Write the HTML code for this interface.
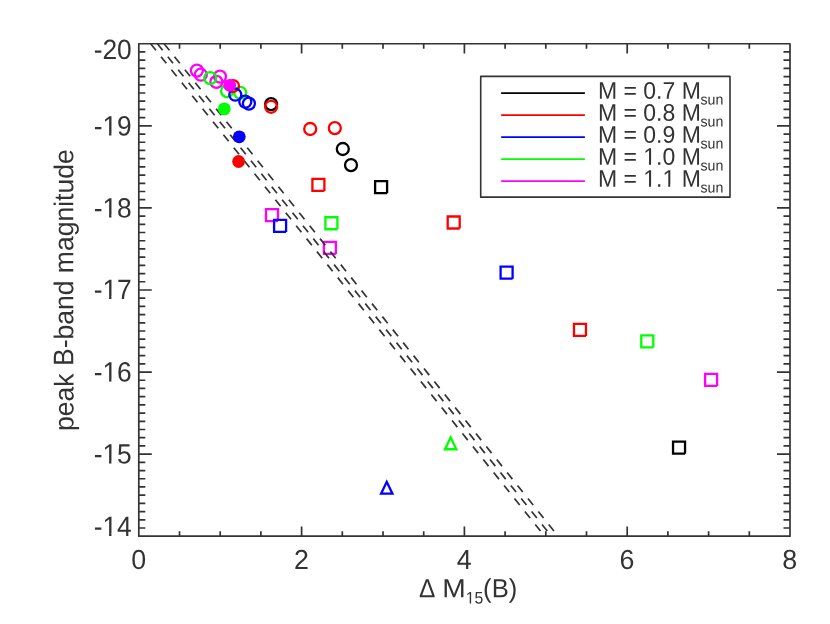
<!DOCTYPE html>
<html><head><meta charset="utf-8"><title>plot</title>
<style>
html,body{margin:0;padding:0;background:#fff;}
body{width:830px;height:624px;overflow:hidden;}
svg{display:block;}
text{font-family:"Liberation Sans",sans-serif;text-rendering:geometricPrecision;fill:#333333;}
</style></head><body>
<svg width="830" height="624" viewBox="0 0 830 624" style="will-change:transform">
<rect x="0" y="0" width="830" height="624" fill="#ffffff"/>

<g id="squares">
<path d="M387.10 193.20H375.10V181.20H387.10V193.20" fill="none" stroke="#000000" stroke-width="2.3" stroke-linejoin="miter"/>
<path d="M685.04 453.70H673.04V441.70H685.04V453.70" fill="none" stroke="#000000" stroke-width="2.3" stroke-linejoin="miter"/>
<path d="M324.40 190.90H312.40V178.90H324.40V190.90" fill="none" stroke="#ff0000" stroke-width="2.3" stroke-linejoin="miter"/>
<path d="M459.70 228.50H447.70V216.50H459.70V228.50" fill="none" stroke="#ff0000" stroke-width="2.3" stroke-linejoin="miter"/>
<path d="M585.97 335.90H573.97V323.90H585.97V335.90" fill="none" stroke="#ff0000" stroke-width="2.3" stroke-linejoin="miter"/>
<path d="M278.00 221.05H266.00V209.05H278.00V221.05" fill="none" stroke="#ff00ff" stroke-width="2.3" stroke-linejoin="miter"/>
<path d="M335.90 253.90H323.90V241.90H335.90V253.90" fill="none" stroke="#ff00ff" stroke-width="2.3" stroke-linejoin="miter"/>
<path d="M717.10 385.95H705.10V373.95H717.10V385.95" fill="none" stroke="#ff00ff" stroke-width="2.3" stroke-linejoin="miter"/>
<path d="M337.40 229.25H325.40V217.25H337.40V229.25" fill="none" stroke="#00ff00" stroke-width="2.3" stroke-linejoin="miter"/>
<path d="M653.30 347.30H641.30V335.30H653.30V347.30" fill="none" stroke="#00ff00" stroke-width="2.3" stroke-linejoin="miter"/>
<path d="M286.10 231.90H274.10V219.90H286.10V231.90" fill="none" stroke="#0000ff" stroke-width="2.3" stroke-linejoin="miter"/>
<path d="M512.60 278.70H500.60V266.70H512.60V278.70" fill="none" stroke="#0000ff" stroke-width="2.3" stroke-linejoin="miter"/>
</g>
<g id="tri">
<path d="M444.95 449.25L450.65 437.40L456.35 449.25Z" fill="none" stroke="#00ff00" stroke-width="2.3" stroke-linejoin="miter" stroke-miterlimit="10"/>
<path d="M381.05 493.65L386.75 481.80L392.45 493.65Z" fill="none" stroke="#0000ff" stroke-width="2.3" stroke-linejoin="miter" stroke-miterlimit="10"/>
</g>
<g id="dash" stroke="#333333" stroke-width="1.7" fill="none" stroke-dasharray="8.4 8.24">
<line x1="150.65" y1="43.75" x2="544.61" y2="536.20"/>
<line x1="157.40" y1="43.75" x2="551.36" y2="536.20"/>
<line x1="164.10" y1="43.75" x2="558.06" y2="536.20"/>
</g>
<g id="open">
<circle cx="271.10" cy="104.10" r="6" fill="none" stroke="#000000" stroke-width="2.3"/>
<circle cx="342.80" cy="149.00" r="6" fill="none" stroke="#000000" stroke-width="2.3"/>
<circle cx="351.00" cy="165.10" r="6" fill="none" stroke="#000000" stroke-width="2.3"/>
<circle cx="271.10" cy="106.80" r="6" fill="none" stroke="#ff0000" stroke-width="2.3"/>
<circle cx="310.20" cy="129.00" r="6" fill="none" stroke="#ff0000" stroke-width="2.3"/>
<circle cx="334.80" cy="128.10" r="6" fill="none" stroke="#ff0000" stroke-width="2.3"/>
<circle cx="196.90" cy="70.60" r="6" fill="none" stroke="#ff00ff" stroke-width="2.3"/>
<circle cx="200.80" cy="74.70" r="6" fill="none" stroke="#ff00ff" stroke-width="2.3"/>
<circle cx="220.00" cy="76.60" r="6" fill="none" stroke="#ff00ff" stroke-width="2.3"/>
<circle cx="216.40" cy="81.90" r="6" fill="none" stroke="#ff00ff" stroke-width="2.3"/>
<circle cx="210.20" cy="78.10" r="6" fill="none" stroke="#00ff00" stroke-width="2.3"/>
<circle cx="227.10" cy="91.10" r="6" fill="none" stroke="#00ff00" stroke-width="2.3"/>
<circle cx="240.20" cy="92.80" r="6" fill="none" stroke="#00ff00" stroke-width="2.3"/>
<circle cx="233.00" cy="86.05" r="6" fill="none" stroke="#ff0000" stroke-width="2.3"/>
<circle cx="235.30" cy="94.70" r="6" fill="none" stroke="#0000ff" stroke-width="2.3"/>
<circle cx="245.30" cy="101.70" r="6" fill="none" stroke="#0000ff" stroke-width="2.3"/>
<circle cx="248.90" cy="103.60" r="6" fill="none" stroke="#0000ff" stroke-width="2.3"/>
</g>
<g id="filled">
<circle cx="229.70" cy="85.30" r="6.4" fill="#ff00ff"/>
<circle cx="224.30" cy="108.90" r="6.4" fill="#00ff00"/>
<circle cx="239.30" cy="136.80" r="6.4" fill="#0000ff"/>
<circle cx="238.60" cy="161.50" r="6.4" fill="#ff0000"/>
</g>
<g id="axes" stroke="#333333" stroke-width="1.7" fill="none" stroke-linecap="butt">
<rect x="138.8" y="43.75" width="651.20" height="492.45" stroke-linejoin="round"/>
<path d="M179.50 536.20v-4.9M179.50 43.75v4.9M220.20 536.20v-4.9M220.20 43.75v4.9M260.90 536.20v-4.9M260.90 43.75v4.9M301.60 536.20v-9.8M301.60 43.75v9.8M342.30 536.20v-4.9M342.30 43.75v4.9M383.00 536.20v-4.9M383.00 43.75v4.9M423.70 536.20v-4.9M423.70 43.75v4.9M464.40 536.20v-9.8M464.40 43.75v9.8M505.10 536.20v-4.9M505.10 43.75v4.9M545.80 536.20v-4.9M545.80 43.75v4.9M586.50 536.20v-4.9M586.50 43.75v4.9M627.20 536.20v-9.8M627.20 43.75v9.8M667.90 536.20v-4.9M667.90 43.75v4.9M708.60 536.20v-4.9M708.60 43.75v4.9M749.30 536.20v-4.9M749.30 43.75v4.9M138.80 51.96h6.5M790.00 51.96h-6.5M138.80 60.17h6.5M790.00 60.17h-6.5M138.80 68.37h6.5M790.00 68.37h-6.5M138.80 76.58h6.5M790.00 76.58h-6.5M138.80 84.79h6.5M790.00 84.79h-6.5M138.80 93.00h6.5M790.00 93.00h-6.5M138.80 101.20h6.5M790.00 101.20h-6.5M138.80 109.41h6.5M790.00 109.41h-6.5M138.80 117.62h6.5M790.00 117.62h-6.5M138.80 125.83h13.0M790.00 125.83h-13.0M138.80 134.03h6.5M790.00 134.03h-6.5M138.80 142.24h6.5M790.00 142.24h-6.5M138.80 150.45h6.5M790.00 150.45h-6.5M138.80 158.66h6.5M790.00 158.66h-6.5M138.80 166.86h6.5M790.00 166.86h-6.5M138.80 175.07h6.5M790.00 175.07h-6.5M138.80 183.28h6.5M790.00 183.28h-6.5M138.80 191.49h6.5M790.00 191.49h-6.5M138.80 199.69h6.5M790.00 199.69h-6.5M138.80 207.90h13.0M790.00 207.90h-13.0M138.80 216.11h6.5M790.00 216.11h-6.5M138.80 224.32h6.5M790.00 224.32h-6.5M138.80 232.52h6.5M790.00 232.52h-6.5M138.80 240.73h6.5M790.00 240.73h-6.5M138.80 248.94h6.5M790.00 248.94h-6.5M138.80 257.14h6.5M790.00 257.14h-6.5M138.80 265.35h6.5M790.00 265.35h-6.5M138.80 273.56h6.5M790.00 273.56h-6.5M138.80 281.77h6.5M790.00 281.77h-6.5M138.80 289.98h13.0M790.00 289.98h-13.0M138.80 298.18h6.5M790.00 298.18h-6.5M138.80 306.39h6.5M790.00 306.39h-6.5M138.80 314.60h6.5M790.00 314.60h-6.5M138.80 322.81h6.5M790.00 322.81h-6.5M138.80 331.01h6.5M790.00 331.01h-6.5M138.80 339.22h6.5M790.00 339.22h-6.5M138.80 347.43h6.5M790.00 347.43h-6.5M138.80 355.64h6.5M790.00 355.64h-6.5M138.80 363.84h6.5M790.00 363.84h-6.5M138.80 372.05h13.0M790.00 372.05h-13.0M138.80 380.26h6.5M790.00 380.26h-6.5M138.80 388.47h6.5M790.00 388.47h-6.5M138.80 396.67h6.5M790.00 396.67h-6.5M138.80 404.88h6.5M790.00 404.88h-6.5M138.80 413.09h6.5M790.00 413.09h-6.5M138.80 421.30h6.5M790.00 421.30h-6.5M138.80 429.50h6.5M790.00 429.50h-6.5M138.80 437.71h6.5M790.00 437.71h-6.5M138.80 445.92h6.5M790.00 445.92h-6.5M138.80 454.12h13.0M790.00 454.12h-13.0M138.80 462.33h6.5M790.00 462.33h-6.5M138.80 470.54h6.5M790.00 470.54h-6.5M138.80 478.75h6.5M790.00 478.75h-6.5M138.80 486.96h6.5M790.00 486.96h-6.5M138.80 495.16h6.5M790.00 495.16h-6.5M138.80 503.37h6.5M790.00 503.37h-6.5M138.80 511.58h6.5M790.00 511.58h-6.5M138.80 519.79h6.5M790.00 519.79h-6.5M138.80 527.99h6.5M790.00 527.99h-6.5"/>
</g>
<g id="ticklabels">
<text transform="translate(138.60 568.90) rotate(0.04) scale(1.03 1.06)" font-size="26" text-anchor="middle">0</text>
<text transform="translate(301.40 568.90) rotate(0.04) scale(1.03 1.06)" font-size="26" text-anchor="middle">2</text>
<text transform="translate(464.20 568.90) rotate(0.04) scale(1.03 1.06)" font-size="26" text-anchor="middle">4</text>
<text transform="translate(627.00 568.90) rotate(0.04) scale(1.03 1.06)" font-size="26" text-anchor="middle">6</text>
<text transform="translate(789.80 568.90) rotate(0.04) scale(1.03 1.06)" font-size="26" text-anchor="middle">8</text>
<text transform="translate(131.80 59.05) rotate(0.04) scale(1.015 1.07)" font-size="26" text-anchor="end">-20</text>
<text transform="translate(131.80 135.57) rotate(0.04) scale(1.015 1.07)" font-size="26" text-anchor="end">-19</text>
<text transform="translate(131.80 217.50) rotate(0.04) scale(1.015 1.07)" font-size="26" text-anchor="end">-18</text>
<text transform="translate(131.80 298.98) rotate(0.04) scale(1.015 1.07)" font-size="26" text-anchor="end">-17</text>
<text transform="translate(131.80 381.55) rotate(0.04) scale(1.015 1.07)" font-size="26" text-anchor="end">-16</text>
<text transform="translate(131.80 463.52) rotate(0.04) scale(1.015 1.07)" font-size="26" text-anchor="end">-15</text>
<text transform="translate(131.80 535.95) rotate(0.04) scale(1.015 1.07)" font-size="26" text-anchor="end">-14</text>
</g>
<g id="xt">
<text transform="translate(419.07 597.30) rotate(0.04) scale(0.94 1.01)" font-size="26" text-anchor="start">Δ</text>
<text transform="translate(442.29 597.30) rotate(0.04) scale(1.084 1.01)" font-size="26" text-anchor="start">M</text>
<text transform="translate(465.78 603.60) rotate(0.04) scale(0.98 1.03)" font-size="16.1" text-anchor="start">15</text>
<text transform="translate(483.11 597.30) rotate(0.04) scale(0.985 1.01)" font-size="26" text-anchor="start">(B)</text>
</g>
<g id="yt" transform="translate(73.4 430.9) rotate(-90.03) scale(1 1.025)" font-size="26.52">
<text x="0" y="0">peak </text>
<text transform="translate(64.875 0) scale(1 1.04)">B</text>
<text x="82.5625" y="0">-band magnitude</text>
</g>
<rect x="480.7" y="76.4" width="249.3" height="120.75" fill="#ffffff" stroke="#333333" stroke-width="1.6" stroke-linejoin="round"/>
<line x1="501.15" y1="93.15" x2="584.9" y2="93.15" stroke="#000000" stroke-width="1.9"/>
<text transform="translate(597.90 98.75) rotate(0.04) scale(1.0 1.045)" font-size="23.0" text-anchor="start">M = 0.7 M<tspan font-size="14.2" dy="5.4" dx="-0.4">sun</tspan></text>
<line x1="501.15" y1="115.15" x2="584.9" y2="115.15" stroke="#ff0000" stroke-width="1.9"/>
<text transform="translate(597.90 120.75) rotate(0.04) scale(1.0 1.045)" font-size="23.0" text-anchor="start">M = 0.8 M<tspan font-size="14.2" dy="5.4" dx="-0.4">sun</tspan></text>
<line x1="501.15" y1="137.15" x2="584.9" y2="137.15" stroke="#0000ff" stroke-width="1.9"/>
<text transform="translate(597.90 142.75) rotate(0.04) scale(1.0 1.045)" font-size="23.0" text-anchor="start">M = 0.9 M<tspan font-size="14.2" dy="5.4" dx="-0.4">sun</tspan></text>
<line x1="501.15" y1="159.15" x2="584.9" y2="159.15" stroke="#00ff00" stroke-width="1.9"/>
<text transform="translate(597.90 164.75) rotate(0.04) scale(1.0 1.045)" font-size="23.0" text-anchor="start">M = 1.0 M<tspan font-size="14.2" dy="5.4" dx="-0.4">sun</tspan></text>
<line x1="501.15" y1="181.15" x2="584.9" y2="181.15" stroke="#ff00ff" stroke-width="1.9"/>
<text transform="translate(597.90 186.75) rotate(0.04) scale(1.0 1.045)" font-size="23.0" text-anchor="start">M = 1.1 M<tspan font-size="14.2" dy="5.4" dx="-0.4">sun</tspan></text>
<g id="onefoot" fill="#ffffff" stroke="none">
<polygon points="103.43,132.92 109.08,132.92 109.08,136.39 103.42,136.38"/>
<polygon points="111.41,132.92 116.87,132.92 116.86,136.39 111.41,136.39"/>
<polygon points="103.43,214.85 109.08,214.85 109.08,218.32 103.42,218.31"/>
<polygon points="111.41,214.85 116.87,214.85 116.86,218.32 111.41,218.32"/>
<polygon points="103.43,296.33 109.08,296.33 109.08,299.80 103.42,299.79"/>
<polygon points="111.41,296.33 116.87,296.33 116.86,299.80 111.41,299.80"/>
<polygon points="103.43,378.90 109.08,378.90 109.08,382.37 103.42,382.36"/>
<polygon points="111.41,378.90 116.87,378.90 116.86,382.37 111.41,382.37"/>
<polygon points="103.43,460.87 109.08,460.87 109.08,464.34 103.42,464.33"/>
<polygon points="111.41,460.87 116.87,460.87 116.86,464.34 111.41,464.34"/>
<polygon points="103.43,533.30 109.08,533.30 109.08,536.77 103.42,536.76"/>
<polygon points="111.41,533.30 116.87,533.30 116.86,536.77 111.41,536.77"/>
<polygon points="466.37,602.03 469.75,602.03 469.75,604.10 466.37,604.10"/>
<polygon points="471.14,602.03 474.40,602.04 474.40,604.10 471.14,604.10"/>
<polygon points="644.11,162.51 649.04,162.51 649.04,165.51 644.11,165.50"/>
<polygon points="651.08,162.51 655.83,162.51 655.83,165.51 651.08,165.51"/>
<polygon points="644.11,184.51 649.04,184.51 649.04,187.51 644.11,187.50"/>
<polygon points="651.08,184.51 655.83,184.51 655.83,187.51 651.08,187.51"/>
<polygon points="663.30,184.52 668.23,184.52 668.23,187.52 663.30,187.52"/>
<polygon points="670.26,184.52 675.02,184.53 675.01,187.52 670.26,187.52"/>
</g>
</svg></body></html>
